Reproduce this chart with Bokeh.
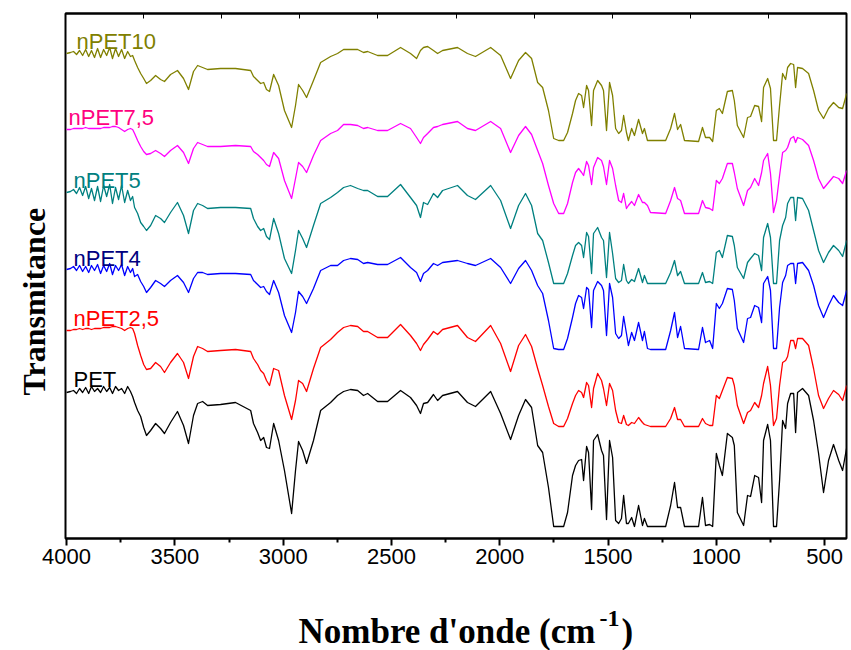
from bokeh.plotting import figure
from bokeh.models import Range1d, LinearAxis, FixedTicker, Label, Title
from bokeh.layouts import column
from bokeh.core.properties import value
from bokeh.embed import file_html
from bokeh.resources import INLINE

# wavenumber grid (cm-1)
wavenumber = [
    4000, 3982, 3968, 3954, 3940, 3926, 3912, 3898, 3885, 3871,
    3857, 3843, 3829, 3815, 3801, 3788, 3774, 3760, 3746, 3732,
    3718, 3705, 3695, 3686, 3672, 3658, 3644, 3631, 3612, 3589,
    3566, 3548, 3520, 3488, 3460, 3437, 3414, 3395, 3372, 3349,
    3289, 3220, 3150, 3137, 3118, 3104, 3090, 3077, 3063, 3044,
    3021, 2994, 2961, 2943, 2929, 2910, 2892, 2860, 2827, 2781,
    2749, 2721, 2689, 2656, 2629, 2610, 2564, 2518, 2458, 2412,
    2384, 2366, 2352, 2333, 2306, 2287, 2264, 2195, 2149, 2112,
    2042, 1996, 1950, 1913, 1881, 1853, 1825, 1802, 1775, 1751,
    1728, 1705, 1687, 1664, 1650, 1636, 1622, 1613, 1599, 1590,
    1576, 1567, 1548, 1530, 1521, 1507, 1493, 1479, 1465, 1451,
    1438, 1428, 1415, 1406, 1391, 1378, 1359, 1341, 1332, 1318,
    1304, 1234, 1211, 1193, 1179, 1165, 1147, 1082, 1064, 1050,
    1031, 1017, 1000, 986, 972, 949, 926, 917, 903, 874,
    856, 842, 823, 805, 791, 782, 763, 750, 736, 722,
    708, 694, 680, 671, 657, 643, 634, 625, 602, 574,
    551, 528, 505, 482, 459, 435, 417, 398,
]

# transmittance (arbitrary units, stacked as in the figure)
pet = [
    146, 147, 148, 145, 150, 146, 151, 145, 152, 147,
    150, 146, 152, 147, 151, 145, 152, 148, 150, 145,
    152, 147, 142, 136, 128, 122, 111, 103, 108, 115,
    110, 105, 116, 127, 113, 95, 123, 135, 137, 133,
    134, 136, 128, 115, 106, 98, 101, 91, 90, 115,
    98, 68, 25, 68, 97, 88, 75, 98, 128, 136,
    143, 147, 149, 148, 143, 145, 137, 137, 148, 141,
    133, 125, 135, 136, 144, 138, 143, 147, 136, 132,
    147, 125, 99, 123, 139, 131, 93, 86, 51, 12,
    12, 12, 26, 63, 73, 78, 79, 58, 92, 86,
    29, 98, 104, 88, 83, 19, 98, 81, 18, 15,
    20, 43, 15, 15, 21, 12, 33, 13, 20, 12,
    12, 12, 33, 56, 31, 31, 12, 12, 41, 13,
    14, 12, 85, 73, 63, 105, 101, 93, 26, 13,
    43, 42, 63, 61, 36, 98, 114, 98, 12, 12,
    58, 118, 110, 135, 145, 145, 106, 146, 150, 143,
    118, 85, 46, 78, 94, 78, 68, 91,
]

npet2_5 = [
    208, 208, 209, 209, 210, 209, 210, 210, 209, 210,
    210, 210, 211, 211, 211, 212, 212, 211, 210, 208,
    210, 211, 210, 205, 193, 183, 174, 169, 170, 176,
    172, 166, 176, 185, 176, 160, 182, 192, 190, 187,
    188, 189, 187, 180, 174, 168, 165, 158, 153, 170,
    168, 143, 119, 138, 158, 155, 147, 170, 191, 199,
    206, 211, 213, 212, 207, 207, 201, 201, 214, 203,
    195, 188, 194, 199, 207, 204, 209, 213, 201, 197,
    213, 195, 167, 193, 204, 192, 170, 153, 132, 115,
    112, 112, 120, 135, 143, 148, 146, 141, 156, 153,
    131, 150, 165, 158, 150, 133, 155, 148, 128, 116,
    115, 123, 114, 113, 116, 115, 121, 116, 114, 113,
    112, 112, 120, 131, 119, 119, 112, 112, 120, 115,
    113, 113, 143, 140, 148, 161, 160, 153, 133, 115,
    126, 128, 136, 131, 143, 155, 172, 153, 113, 120,
    153, 176, 178, 182, 198, 198, 190, 200, 200, 193,
    170, 143, 130, 140, 148, 144, 138, 153,
]

npet4 = [
    269, 270, 272, 268, 273, 267, 272, 266, 273, 268,
    274, 265, 273, 267, 275, 264, 273, 268, 274, 263,
    272, 266, 270, 262, 264, 257, 252, 246, 251, 258,
    255, 252, 258, 263, 256, 246, 260, 266, 266, 264,
    265, 265, 264, 258, 254, 251, 252, 247, 244, 258,
    246, 223, 206, 226, 247, 242, 235, 250, 268, 273,
    273, 278, 280, 279, 275, 276, 274, 274, 281, 271,
    266, 257, 265, 268, 275, 273, 276, 278, 275, 273,
    280, 271, 255, 270, 278, 268, 253, 245, 218, 190,
    189, 189, 200, 221, 235, 243, 241, 230, 251, 249,
    211, 248, 257, 253, 248, 203, 255, 241, 205, 200,
    203, 222, 205, 193, 206, 198, 216, 198, 207, 190,
    189, 189, 208, 226, 201, 212, 190, 189, 211, 196,
    198, 190, 235, 230, 235, 250, 249, 238, 210, 196,
    220, 221, 233, 231, 216, 255, 262, 248, 190, 190,
    231, 256, 263, 273, 275, 275, 255, 275, 276, 268,
    253, 233, 221, 233, 243, 236, 233, 248,
]

npet5 = [
    346, 347, 349, 345, 351, 343, 352, 340, 350, 338,
    352, 337, 353, 342, 354, 335, 351, 339, 353, 336,
    348, 338, 342, 331, 325, 316, 312, 308, 313, 323,
    320, 316, 326, 336, 323, 305, 328, 335, 333, 330,
    331, 331, 330, 320, 312, 308, 310, 302, 299, 320,
    305, 280, 265, 288, 308, 300, 291, 313, 335, 341,
    346, 351, 353, 350, 348, 348, 342, 342, 354, 341,
    333, 321, 336, 334, 345, 341, 348, 353, 343, 339,
    353, 338, 310, 333, 345, 333, 305, 298, 276, 255,
    255, 255, 265, 283, 293, 296, 293, 281, 306, 302,
    265, 305, 311, 301, 298, 261, 306, 285, 260, 256,
    258, 274, 258, 255, 259, 257, 270, 256, 263, 255,
    255, 255, 266, 278, 263, 267, 255, 255, 266, 256,
    257, 255, 286, 288, 281, 303, 302, 293, 271, 260,
    276, 280, 285, 283, 268, 301, 315, 301, 255, 255,
    298, 313, 321, 335, 341, 341, 318, 341, 340, 328,
    308, 288, 276, 286, 293, 288, 282, 298,
]

npet7_5 = [
    409, 409, 410, 410, 410, 410, 411, 410, 410, 410,
    410, 410, 411, 411, 411, 412, 412, 411, 409, 407,
    409, 410, 409, 405, 398, 392, 387, 384, 385, 388,
    385, 382, 388, 393, 386, 375, 390, 396, 394, 392,
    392, 393, 392, 387, 384, 381, 378, 374, 372, 386,
    380, 358, 340, 360, 376, 372, 366, 383, 398, 405,
    408, 414, 414, 413, 410, 411, 408, 408, 415, 410,
    401, 395, 401, 405, 411, 412, 414, 417, 410, 408,
    417, 410, 386, 403, 412, 404, 388, 375, 353, 335,
    325, 325, 335, 356, 366, 370, 366, 363, 377, 373,
    354, 371, 381, 378, 372, 354, 378, 370, 353, 338,
    336, 345, 330, 333, 337, 333, 344, 336, 336, 333,
    326, 325, 338, 351, 340, 338, 325, 325, 338, 331,
    330, 328, 358, 355, 360, 375, 375, 366, 350, 333,
    348, 351, 360, 353, 366, 378, 385, 365, 326, 338,
    363, 386, 388, 391, 400, 402, 396, 401, 399, 393,
    378, 360, 350, 356, 362, 360, 355, 368,
]

npet10 = [
    485, 486, 487, 484, 488, 483, 489, 482, 488, 481,
    490, 481, 489, 483, 491, 480, 490, 482, 489, 480,
    487, 482, 483, 478, 471, 465, 460, 455, 458, 463,
    459, 457, 464, 468, 460, 449, 467, 473, 471, 469,
    470, 470, 468, 462, 458, 455, 456, 449, 447, 464,
    453, 428, 411, 433, 454, 448, 441, 458, 476, 482,
    485, 489, 489, 489, 486, 487, 483, 483, 491, 485,
    480, 488, 491, 492, 488, 485, 488, 491, 485, 482,
    491, 483, 460, 478, 486, 480, 456, 451, 428, 400,
    398, 398, 406, 425, 438, 445, 443, 431, 453, 448,
    413, 448, 458, 453, 448, 408, 456, 443, 410, 405,
    408, 423, 406, 398, 410, 403, 419, 405, 410, 398,
    398, 398, 410, 425, 409, 414, 398, 397, 411, 401,
    401, 397, 428, 430, 425, 447, 448, 438, 413, 401,
    421, 422, 433, 432, 417, 451, 460, 450, 398, 398,
    433, 465, 459, 471, 475, 474, 451, 471, 470, 465,
    448, 428, 420, 430, 436, 431, 430, 445,
]

series_names = ["PET", "nPET2,5", "nPET4", "nPET5", "nPET7,5", "nPET10"]
series_values = [pet, npet2_5, npet4, npet5, npet7_5, npet10]
line_colors = ["#000000", "#FF0000", "#0000FF", "#008080", "#FF00FF", "#808000"]
label_colors = ["#000000", "#FF0000", "#000080", "#008080", "#FF0080", "#808000"]

x_ticks = [4000, 3500, 3000, 2500, 2000, 1500, 1000, 500]
x_minor_ticks = [3750, 3250, 2750, 2250, 1750, 1250, 750]

x_title = "Nombre d'onde (cm"
x_title_sup = "-1"
x_title_end = ")"
y_title = "Transmitance"

for name, vals in zip(series_names, series_values):
    assert len(vals) == len(wavenumber), (name, len(vals), len(wavenumber))

X_START, X_END = 4005, 399
Y_END = 525
p = figure(width=851, height=578,
           x_range=Range1d(X_START, X_END), y_range=Range1d(0, Y_END),
           output_backend="svg", toolbar_location=None, y_axis_location=None,
           min_border_left=65, min_border_right=5, min_border_top=13,
           min_border_bottom=40)
p.grid.visible = False
p.outline_line_color = "black"
p.outline_line_width = 2
p.background_fill_color = "white"
p.border_fill_color = "white"

xa = p.xaxis[0]
xa.ticker = FixedTicker(ticks=x_ticks, minor_ticks=x_minor_ticks)
xa.axis_line_width = 2
xa.major_tick_line_width = 2
xa.minor_tick_line_width = 2
xa.major_tick_in = 0
xa.major_tick_out = 7
xa.minor_tick_in = 0
xa.minor_tick_out = 4
xa.major_label_standoff = 3
xa.major_label_text_font = "Liberation Sans"
xa.major_label_text_font_size = "22px"
xa.major_label_text_color = "black"

# mirrored top axis with inward ticks (ten equal divisions of the frame)
top_ticks = [X_START + k * (X_END - X_START) / 10 for k in range(11)]
ta = LinearAxis(ticker=FixedTicker(ticks=top_ticks, minor_ticks=[]))
ta.axis_line_width = 2
ta.major_tick_in = 5
ta.major_tick_out = 0
ta.major_tick_line_width = 1
ta.major_label_overrides = {t: "" for t in top_ticks}
ta.major_label_standoff = 0
p.add_layout(ta, "above")

# y title as a side title, aligned from the bottom of the frame
p.add_layout(Title(text=y_title, align="left", offset=143, standoff=27,
                   vertical_align="bottom", text_font="Liberation Serif",
                   text_font_style="bold", text_font_size="32px",
                   text_color="black"), "left")

for name, vals, c in zip(series_names, series_values, line_colors):
    p.line(wavenumber, vals, line_color=c, line_width=1.3, line_join="round")

# series labels (screen units relative to the frame)
label_pos = [(8, 159), (8, 220), (8, 280), (8, 358), (3, 421), (11, 497)]
for name, c, (lx, ly) in zip(series_names, label_colors, label_pos):
    p.add_layout(Label(x=lx, y=ly, x_units="screen", y_units="screen", text=name,
                       text_font="Liberation Sans", text_font_size="22px",
                       text_color=c, text_baseline="alphabetic"))

# x-axis title strip (page pixel coordinates horizontally)
p2 = figure(width=851, height=72, x_range=Range1d(65, 846), y_range=Range1d(0, 72),
            output_backend="svg", toolbar_location=None,
            x_axis_location=None, y_axis_location=None,
            min_border_left=65, min_border_right=5, min_border_top=0,
            min_border_bottom=0)
p2.grid.visible = False
p2.outline_line_color = None
p2.background_fill_color = "white"
p2.border_fill_color = "white"
p2.text(x=[298], y=[19], text=[x_title], text_font=value("Liberation Serif"),
        text_font_style="bold", text_font_size="35px", text_color="black",
        text_baseline="alphabetic")
p2.text(x=[599], y=[32], text=[x_title_sup], text_font=value("Liberation Serif"),
        text_font_style="bold", text_font_size="24px", text_color="black",
        text_baseline="alphabetic")
p2.text(x=[621], y=[19], text=[x_title_end], text_font=value("Liberation Serif"),
        text_font_style="bold", text_font_size="35px", text_color="black",
        text_baseline="alphabetic")

layout = column(p, p2, spacing=0)
open("out.html", "w").write(file_html(layout, INLINE))
